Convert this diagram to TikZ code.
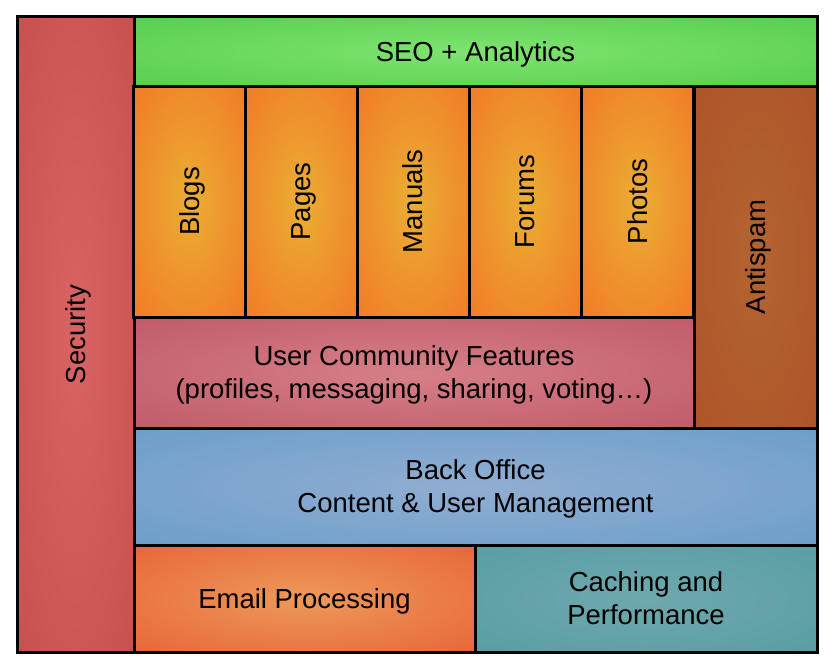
\documentclass[tikz,border=0pt]{standalone}
\usepackage{fontspec}
\setmainfont{Liberation Sans}
\usepackage{tikz}

% soft radial fills
\pgfdeclareradialshading{secshade}{\pgfpoint{0bp}{0bp}}{rgb(0bp)=(0.85,0.39,0.39); rgb(54bp)=(0.74,0.28,0.26)}
\pgfdeclareradialshading{seoshade}{\pgfpoint{0bp}{0bp}}{rgb(0bp)=(0.50,0.89,0.44); rgb(54bp)=(0.26,0.77,0.24)}
\pgfdeclareradialshading{colshade}{\pgfpoint{0bp}{0bp}}{rgb(0bp)=(0.92,0.68,0.20); rgb(54bp)=(0.96,0.38,0.13)}
\pgfdeclareradialshading{spamshade}{\pgfpoint{0bp}{0bp}}{rgb(0bp)=(0.70,0.39,0.19); rgb(54bp)=(0.68,0.30,0.15)}
\pgfdeclareradialshading{usershade}{\pgfpoint{0bp}{0bp}}{rgb(0bp)=(0.84,0.50,0.53); rgb(54bp)=(0.71,0.28,0.36)}
\pgfdeclareradialshading{backshade}{\pgfpoint{0bp}{0bp}}{rgb(0bp)=(0.57,0.68,0.82); rgb(54bp)=(0.35,0.59,0.78)}
\pgfdeclareradialshading{mailshade}{\pgfpoint{0bp}{0bp}}{rgb(0bp)=(0.93,0.60,0.35); rgb(54bp)=(0.90,0.30,0.16)}
\pgfdeclareradialshading{cacheshade}{\pgfpoint{0bp}{0bp}}{rgb(0bp)=(0.43,0.66,0.68); rgb(54bp)=(0.31,0.60,0.62)}

\begin{document}
\begin{tikzpicture}[x=1pt,y=-1pt,
  layer node/.style={rectangle,draw=black,line width=3pt,inner sep=0pt,
  text depth=0pt,align=center,font=\fontsize{27.5}{33}\selectfont},
  module node/.style={layer node,shading=colshade,rotate=90,
  minimum width=231pt,minimum height=112pt}]

  \useasboundingbox (0,0) rectangle (834,669);

%side and top layers
  \node[layer node,shading=secshade,rotate=90,minimum width=635pt,minimum height=117pt] (Sec) at (75.5,334.5) {Security};
  \node[layer node,shading=seoshade,minimum width=683pt,minimum height=69pt] (Seo) at (475.5,51.5) {SEO + Analytics};

%content modules
  \node[module node] (Blogs) at (189.5,201.5) {Blogs};
  \node[module node] (Pages) at (301,201.5) {Pages};
  \node[module node] (Manuals) at (413,201.5) {Manuals};
  \node[module node] (Forums) at (525,201.5) {Forums};
  \node[module node] (Photos) at (637.5,201.5) {Photos};
  \node[layer node,shading=spamshade,rotate=90,minimum width=342pt,minimum height=123pt] (Spam) at (755.5,257) {Antispam};

%community and back office
  \node[layer node,shading=usershade,minimum width=560pt,minimum height=111pt] (Users) at (414,372.5) {User Community Features\\(profiles, messaging, sharing, voting\dots)};
  \node[layer node,shading=backshade,minimum width=683pt,minimum height=117pt] (Back) at (475.5,486.5) {Back Office\\Content \& User Management};

%bottom services
  \node[layer node,shading=mailshade,minimum width=341pt,minimum height=107pt] (Mail) at (304.5,598.5) {Email Processing};
  \node[layer node,shading=cacheshade,minimum width=342pt,minimum height=107pt] (Cache) at (646,598.5) {Caching and\\Performance};

\end{tikzpicture}
\end{document}
